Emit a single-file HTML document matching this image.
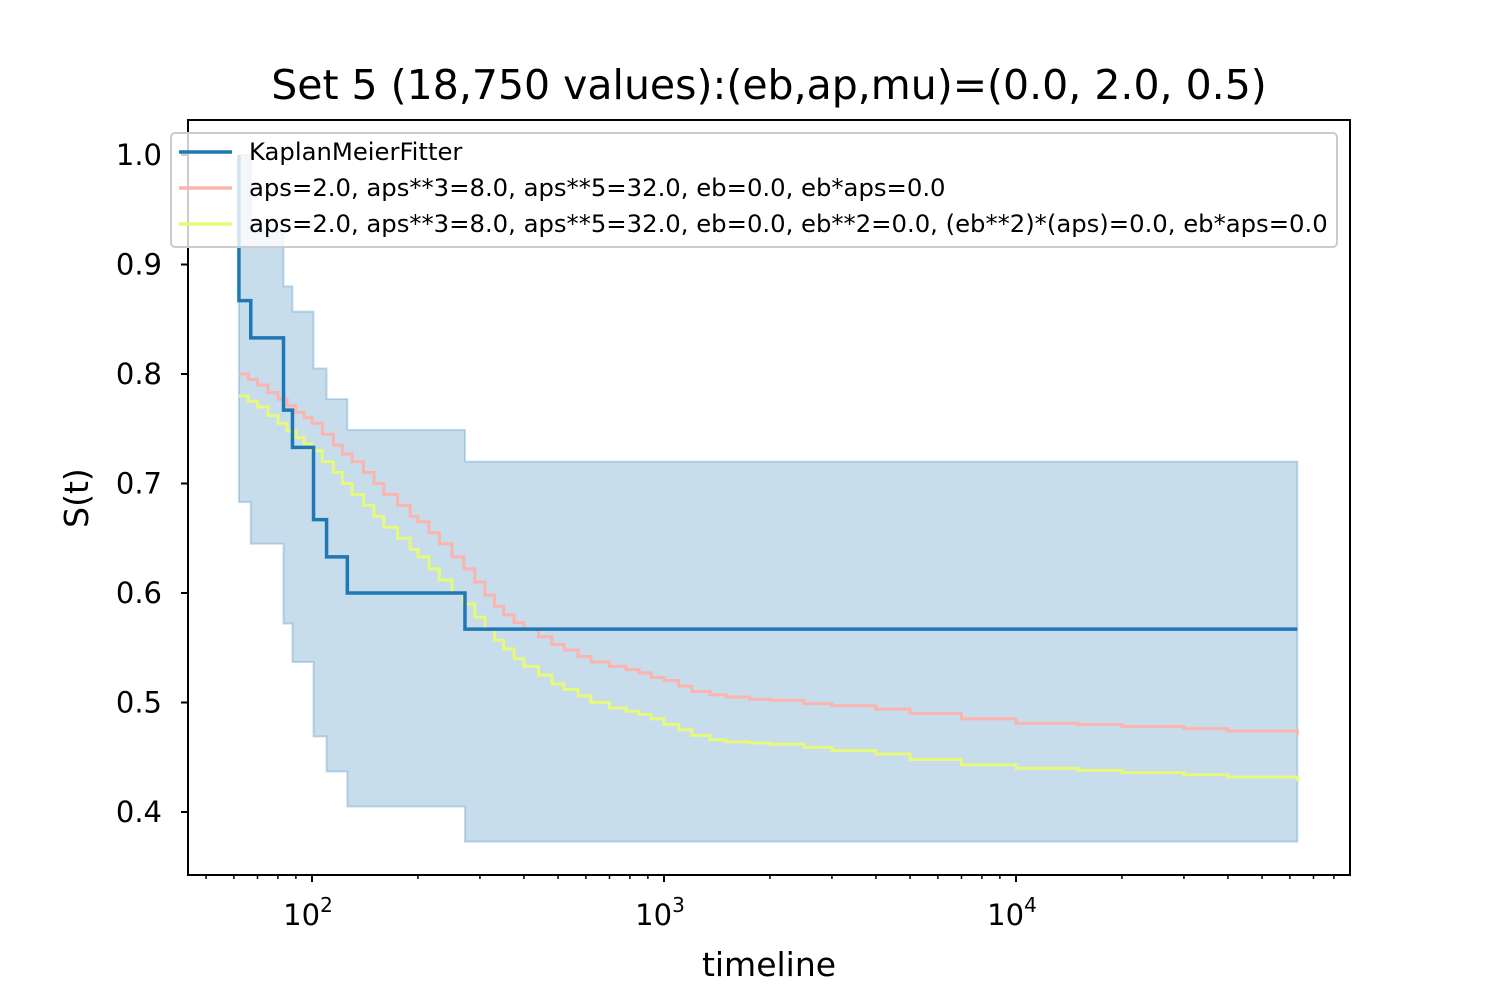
<!DOCTYPE html>
<html><head><meta charset="utf-8"><style>
body{margin:0;background:#fff;font-family:"Liberation Sans","DejaVu Sans",sans-serif}
</style></head><body>
<svg id="c" width="1500" height="1000" xmlns="http://www.w3.org/2000/svg" style="font-family:'DejaVu Sans','Liberation Sans',sans-serif"></svg>
<script>
const kmT=[62,67,83,88,101,110,126,272,63000];
const kmS=[0.867,0.833,0.767,0.733,0.667,0.633,0.6,0.567];
const ciUp=[1.0,0.93,0.88,0.857,0.805,0.777,0.749,0.72];
const ciLo=[0.683,0.645,0.572,0.537,0.469,0.437,0.405,0.373];
const pinkT=[62,66,70,75,80,85,90,95,100,107,115,122,130,140,150,160,175,190,200,215,230,250,270,290,310,330,350,375,400,440,480,520,570,620,700,780,850,920,1000,1100,1200,1350,1500,1750,2000,2500,3000,4000,5000,7000,10000,15000,20000,30000,40000,63000];
const pinkS=[0.80,0.795,0.79,0.783,0.777,0.771,0.765,0.76,0.755,0.745,0.735,0.727,0.72,0.71,0.7,0.69,0.68,0.67,0.665,0.655,0.645,0.633,0.622,0.61,0.598,0.588,0.58,0.573,0.567,0.56,0.553,0.548,0.542,0.537,0.533,0.53,0.527,0.523,0.52,0.515,0.51,0.507,0.505,0.503,0.502,0.499,0.497,0.494,0.49,0.485,0.481,0.48,0.478,0.476,0.474,0.47];
const yelT=[62,66,70,75,80,85,90,95,100,107,115,122,130,140,150,160,175,190,200,215,230,250,270,290,310,330,350,375,400,440,480,520,570,620,700,780,850,920,1000,1100,1200,1350,1500,1750,2000,2500,3000,4000,5000,7000,10000,15000,20000,30000,40000,63000];
const yelS=[0.78,0.775,0.77,0.762,0.755,0.748,0.742,0.736,0.73,0.72,0.71,0.7,0.69,0.68,0.67,0.66,0.65,0.64,0.633,0.622,0.612,0.6,0.59,0.578,0.567,0.557,0.549,0.54,0.533,0.525,0.517,0.512,0.506,0.5,0.495,0.492,0.489,0.485,0.48,0.475,0.47,0.466,0.464,0.463,0.462,0.459,0.456,0.453,0.448,0.443,0.44,0.438,0.436,0.434,0.432,0.428];
const yTicks=[0.4,0.5,0.6,0.7,0.8,0.9,1.0];
const yTickLabels=["0.4","0.5","0.6","0.7","0.8","0.9","1.0"];
const xDecades=[2,3,4];
const L=188,R=1350,T=120,B=875;
const X=t=>312+(Math.log10(t)-2)*352;
const Y=v=>812-(v-0.4)*1095;
const svg=document.getElementById('c');
const NS='http://www.w3.org/2000/svg';
function mk(tag,attrs,parent){const e=document.createElementNS(NS,tag);for(const k in attrs)e.setAttribute(k,attrs[k]);(parent||svg).appendChild(e);return e;}
function stepPath(ts,vs){let d=`M${X(ts[0])},${Y(vs[0])}`;for(let i=1;i<ts.length;i++){d+=`H${X(ts[i])}V${Y(vs[i])}`;}return d;}
// CI band (interval values)
let n=ciUp.length;
let d=`M${X(kmT[0])},${Y(ciUp[0])}`;
for(let i=0;i<n;i++){d+=`V${Y(ciUp[i])}H${X(kmT[i+1])}`;}
for(let i=n-1;i>=0;i--){d+=`V${Y(ciLo[i])}H${X(kmT[i])}`;}
d+='Z';
let band=mk('path',{d:d,fill:'#1f77b4','fill-opacity':0.25,stroke:'#1f77b4','stroke-opacity':0.25,'stroke-width':2});

let p1=mk('path',{d:stepPath(pinkT,pinkS),fill:'none',stroke:'#fbb4ae','stroke-width':3});

let p2=mk('path',{d:stepPath(yelT,yelS),fill:'none',stroke:'#e6f97a','stroke-width':3});

let kd=`M${X(kmT[0])},${Y(1.0)}`;
for(let i=0;i<kmS.length;i++){kd+=`V${Y(kmS[i])}H${X(kmT[i+1])}`;}
let p0=mk('path',{d:kd,fill:'none',stroke:'#1f77b4','stroke-width':3.5});

let fr=mk('rect',{x:L,y:T,width:R-L,height:B-T,fill:'none',stroke:'#000','stroke-width':2});

yTicks.forEach((v,i)=>{mk('line',{x1:L-7,x2:L,y1:Y(v),y2:Y(v),stroke:'#000','stroke-width':2});
let t=mk('text',{x:L-26,y:Y(v)+10,'text-anchor':'end','font-size':29});t.textContent=yTickLabels[i];
});
for(let dd=1;dd<=4;dd++)for(let m=1;m<10;m++){const t=m*Math.pow(10,dd);const x=X(t);if(x<L||x>R)continue;
mk('line',{x1:x,x2:x,y1:B,y2:B+(m===1?7:4),stroke:'#000','stroke-width':m===1?2:1.5});}
xDecades.forEach(dd=>{let t=mk('text',{x:X(Math.pow(10,dd))-4,y:B+50,'text-anchor':'middle','font-size':29});
t.innerHTML=`10<tspan dy="-13" font-size="20">${dd}</tspan>`;});
let xt=mk('text',{x:769,y:976,'text-anchor':'middle','font-size':33});xt.textContent='timeline';
let yt=mk('text',{x:88,y:498,'text-anchor':'middle','font-size':33,transform:'rotate(-90 88 498)'});yt.textContent='S(t)';
let ti=mk('text',{x:769,y:99,'text-anchor':'middle','font-size':41});ti.textContent='Set 5 (18,750 values):(eb,ap,mu)=(0.0, 2.0, 0.5)';
let lg=mk('g',{});
mk('rect',{x:171,y:133,width:1166,height:114,rx:4,fill:'#fff','fill-opacity':0.8,stroke:'#ccc','stroke-width':2},lg);
const lgColors=['#1f77b4','#fbb4ae','#e6f97a'];
const lgLabels=['KaplanMeierFitter','aps=2.0, aps**3=8.0, aps**5=32.0, eb=0.0, eb*aps=0.0','aps=2.0, aps**3=8.0, aps**5=32.0, eb=0.0, eb**2=0.0, (eb**2)*(aps)=0.0, eb*aps=0.0'];
lgLabels.forEach((s,i)=>{const y=152+i*36;mk('line',{x1:179,x2:232,y1:y,y2:y,stroke:lgColors[i],'stroke-width':3.5},lg);
let t=mk('text',{x:249,y:y+8,'font-size':24.3},lg);t.textContent=s;});
</script>
</body></html>
